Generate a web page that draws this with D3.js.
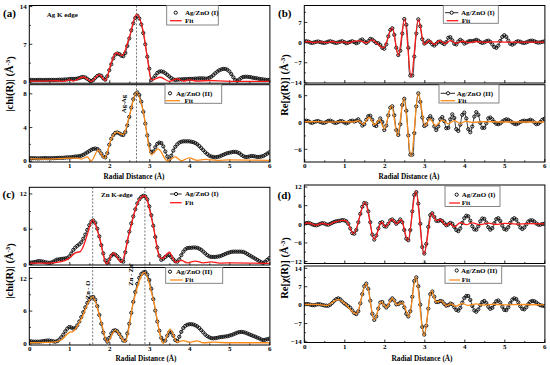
<!DOCTYPE html>
<html>
<head>
<meta charset="utf-8">
<script src="https://cdn.jsdelivr.net/npm/d3@7"></script>
<style>
  body { margin: 0; background: #fff; }
  svg { display: block; }
  text { font-family: "Liberation Serif", "Times New Roman", serif; font-weight: bold; fill: #000; }
</style>
</head>
<body>
<div id="main"></div>
<script>
const W = 550, H = 365;

// radial distance grid (Å), one point every 0.05
const radius = d3.range(121).map(i => +(i * 0.05).toFixed(2));
const xTicks = [0, 1, 2, 3, 4, 5, 6];
const xMinor = [0.5, 1.5, 2.5, 3.5, 4.5, 5.5];

const agMagI = [
  0.30,0.32,0.30,0.28,0.30,0.32,0.30,0.28,0.30,0.30,0.32,0.30,0.30,0.30,0.32,0.35,0.35,0.35,0.40,0.40,
  0.45,0.50,0.50,0.50,0.55,0.65,0.80,0.85,0.75,0.50,0.25,0.10,0.30,0.70,1.05,1.20,1.05,0.60,0.35,1.00,
  2.10,3.20,4.30,5.00,5.20,5.10,4.80,4.70,5.30,6.60,8.00,9.50,10.8,11.8,12.2,11.7,10.6,9.00,6.90,4.60,
  2.40,0.30,0.60,1.10,1.60,1.85,1.90,1.80,1.55,1.25,0.95,0.65,0.40,0.30,0.35,0.40,0.40,0.45,0.45,0.45,
  0.50,0.50,0.50,0.55,0.55,0.60,0.60,0.60,0.55,0.55,0.70,0.90,1.20,1.55,1.85,2.10,2.25,2.35,2.35,2.20,
  1.90,1.40,0.80,0.30,0.15,0.40,0.70,0.85,0.90,0.90,0.85,0.80,0.70,0.65,0.60,0.50,0.45,0.40,0.35,0.30,0.30
];
const agMagII = [
  0.30,0.30,0.30,0.30,0.28,0.28,0.30,0.30,0.32,0.30,0.30,0.30,0.30,0.32,0.33,0.35,0.35,0.35,0.38,0.40,
  0.40,0.42,0.45,0.50,0.50,0.55,0.60,0.70,0.85,1.00,1.15,1.30,1.40,1.45,1.40,1.20,0.85,0.50,0.40,0.90,
  1.90,2.60,3.05,3.30,3.35,3.25,3.10,3.05,3.40,4.20,5.20,6.30,7.30,7.90,8.10,7.80,7.00,5.80,4.40,3.00,
  1.90,1.05,1.10,1.60,2.00,2.15,2.10,1.70,1.10,0.50,0.15,0.60,1.20,1.65,1.95,2.15,2.25,2.30,2.30,2.30,
  2.30,2.25,2.20,2.10,1.95,1.75,1.50,1.25,1.00,0.80,0.60,0.50,0.45,0.40,0.45,0.50,0.60,0.70,0.80,0.90,
  0.95,1.00,1.05,1.05,1.00,0.90,0.70,0.55,0.45,0.45,0.50,0.55,0.55,0.50,0.45,0.45,0.50,0.55,0.70,0.85,1.00
];
const agReI = [
  0.2,0.3,0.15,-0.15,-0.3,-0.1,0.1,0.2,0.0,-0.2,-0.3,-0.1,0.15,0.3,0.1,-0.15,-0.3,-0.1,0.15,0.3,
  0.0,-0.4,-0.2,0.1,0.3,0.0,-0.4,-0.1,0.6,0.9,0.2,-0.3,0.3,1.1,0.9,0.3,-0.3,-0.4,-1.0,-2.0,
  -2.3,-0.8,2.0,4.2,4.8,2.5,-2.0,-4.5,-3.0,3.0,8.0,6.0,-2.0,-11.6,-11.6,-5.0,3.0,7.9,5.5,1.0,
  -0.5,-0.1,0.5,0.0,-0.8,-1.2,-0.6,0.1,0.2,-0.3,-0.7,0.0,1.5,1.7,0.6,-0.6,-0.8,0.2,0.8,0.3,
  -0.5,-0.2,0.2,0.4,0.3,0.5,0.8,0.5,0.0,-0.3,-0.1,0.3,0.5,0.1,-0.8,-1.7,-2.0,-1.2,0.4,1.8,
  2.4,1.8,0.5,-0.6,-0.9,-0.5,0.1,0.3,0.1,-0.2,-0.3,-0.1,0.2,0.45,0.5,0.3,0.0,-0.2,-0.1,0.1,0.2
];
const agReII = [
  0.2,0.3,0.2,-0.1,-0.2,0.0,0.15,0.2,0.0,-0.15,-0.2,0.0,0.25,0.3,0.1,-0.15,-0.2,0.0,0.2,0.15,
  -0.1,-0.3,-0.1,0.2,0.3,0.1,0.3,0.6,0.0,-0.8,-0.5,0.5,1.3,1.4,0.5,-0.7,-0.9,0.0,0.8,0.0,
  -1.8,-0.8,1.5,3.2,3.5,1.5,-1.8,-2.9,-0.5,3.8,5.2,2.5,-3.0,-7.3,-7.3,-2.5,3.5,6.4,4.5,1.0,
  -0.9,-0.6,0.7,1.3,0.6,-1.0,-1.8,-1.0,0.6,1.1,0.2,-1.4,-1.3,0.6,1.7,0.9,-1.6,-2.0,-0.6,1.6,
  2.1,0.8,-1.6,-2.3,-1.0,1.2,2.2,1.6,-0.2,-1.3,-1.3,-0.3,0.8,1.0,0.6,0.0,-0.4,-0.5,-0.3,0.1,
  0.4,0.6,0.5,0.2,-0.1,-0.4,-0.5,-0.3,0.0,0.2,0.3,0.2,0.3,0.5,0.3,-0.1,-0.5,-0.4,0.0,0.5,0.7
];
const znMagI = [
  0.20,0.25,0.30,0.35,0.45,0.50,0.45,0.40,0.30,0.25,0.20,0.25,0.40,0.60,0.75,0.80,0.85,0.90,0.95,1.00,
  1.30,1.80,2.40,2.80,3.10,3.35,3.70,4.30,5.00,5.80,6.60,7.20,7.40,7.00,6.00,4.70,3.20,1.80,0.60,0.20,
  0.80,1.40,1.70,1.60,1.30,0.90,0.50,0.40,2.00,3.80,5.50,6.90,8.10,9.30,10.3,11.0,11.4,11.6,11.5,11.0,
  9.80,8.30,6.50,4.60,2.80,1.40,0.70,0.90,1.20,1.45,1.50,1.20,0.80,0.45,0.40,0.80,1.50,2.10,2.50,2.70,
  2.75,2.75,2.80,2.80,2.75,2.60,2.40,2.10,1.80,1.50,1.30,1.20,1.20,1.20,1.25,1.30,1.40,1.55,1.70,1.85,
  1.95,2.05,2.10,2.10,2.10,2.10,2.10,2.05,1.90,1.70,1.50,1.30,1.10,0.90,0.70,0.50,0.30,0.20,0.40,0.70,1.00
];
const znMagII = [
  0.40,0.35,0.30,0.30,0.30,0.30,0.35,0.40,0.45,0.50,0.50,0.45,0.35,0.30,0.40,0.70,1.10,1.60,2.20,2.70,
  3.00,2.90,2.70,2.80,3.30,4.00,4.80,5.70,6.60,7.40,8.00,8.40,8.50,8.00,6.80,5.20,3.60,2.00,0.80,0.30,
  1.00,1.80,2.30,2.40,2.20,1.70,1.10,0.50,0.50,1.80,3.60,5.60,7.60,9.40,10.9,12.0,12.7,13.0,13.1,12.6,
  11.6,10.0,8.10,6.00,4.00,2.30,1.00,0.40,0.50,1.40,2.00,2.00,1.40,0.60,0.40,1.20,2.10,2.80,3.20,3.40,
  3.50,3.50,3.45,3.30,3.10,2.80,2.40,2.00,1.60,1.30,1.10,0.95,0.90,0.95,1.00,1.10,1.15,1.20,1.25,1.30,
  1.40,1.50,1.65,1.80,1.95,2.05,2.10,2.05,1.95,1.80,1.65,1.50,1.35,1.20,1.05,0.90,0.70,0.60,0.65,0.75,0.85
];
const znReI = [
  0.0,0.2,0.3,0.1,-0.2,-0.4,-0.5,-0.3,0.0,0.2,0.1,-0.2,-0.3,0.0,0.3,0.6,0.8,0.9,1.0,1.2,
  1.1,0.8,0.0,-1.5,-3.0,-3.2,-2.0,0.5,3.2,5.5,6.7,6.5,4.0,0.5,-3.5,-5.1,-3.8,-1.5,0.3,0.5,
  -0.8,-0.9,0.0,1.1,1.4,0.8,0.0,0.6,1.4,0.5,-2.0,-4.8,-5.3,-2.0,4.0,9.3,10.2,6.5,0.0,-7.5,
  -9.6,-6.5,-1.0,2.8,3.4,2.2,1.0,0.9,1.2,0.9,0.2,-0.5,-0.2,0.3,0.0,-1.0,-2.0,-2.4,-1.5,0.3,
  1.8,2.6,2.4,1.0,-0.8,-1.8,-1.9,-0.8,0.8,1.7,1.6,0.4,-1.1,-1.9,-1.4,0.2,1.5,1.8,0.9,-0.6,
  -1.7,-1.9,-1.1,0.3,1.4,1.8,1.3,0.0,-1.2,-1.7,-1.2,-0.2,0.7,1.1,1.1,0.7,0.1,-0.3,-0.3,-0.1,0.0
];
const znReII = [
  0.1,0.2,0.2,0.0,-0.2,-0.2,0.0,0.2,0.1,-0.1,-0.3,-0.4,-0.4,0.0,0.7,1.5,2.1,2.4,2.0,1.2,
  0.5,0.0,-0.6,-1.2,-2.2,-3.2,-3.6,-2.5,0.5,4.0,7.0,8.0,6.0,1.5,-3.5,-5.8,-4.5,-1.5,0.8,1.0,
  -0.3,-1.1,-0.3,1.6,2.4,1.6,0.1,0.2,0.8,0.8,-1.0,-3.5,-4.5,-2.5,3.0,9.0,10.4,7.0,0.0,-8.5,
  -11.4,-8.0,-1.5,4.0,5.0,3.0,1.0,1.0,1.4,1.2,0.3,-0.4,-0.2,0.4,0.1,-1.0,-2.0,-2.3,-1.2,0.8,
  2.5,3.3,3.3,1.8,-0.5,-2.2,-2.7,-1.8,-0.2,1.0,1.4,0.6,-0.8,-1.6,-1.2,0.2,1.3,1.6,0.8,-0.8,
  -2.0,-2.1,-1.0,0.6,1.9,2.4,2.1,0.9,-0.6,-1.6,-1.8,-1.0,0.2,1.1,1.4,1.3,0.8,0.2,-0.2,-0.4,-0.5
];

// ---- fits, as [R, value] turning points ----
const fitAgMagI = [[0,0.1],[0.4,0.1],[0.7,0.15],[0.85,0.05],[1.0,0.3],[1.1,0.1],[1.35,0.85],[1.55,0.05],[1.75,1.3],[1.9,0.2],[2.05,3.5],[2.17,5.3],[2.32,4.8],[2.5,8.2],[2.68,12.4],[2.85,9.2],[2.95,4.5],[3.05,0.3],[3.15,0.5],[3.27,0.8],[3.5,0.05],[3.7,0.5],[3.85,0.1],[4.0,0.3],[4.2,0.1],[4.5,0.2],[5.0,0.05],[6.0,0.05]];
const fitAgMagII = [[0,0.25],[0.5,0.2],[1.0,0.3],[1.2,0.3],[1.3,0.2],[1.45,0.45],[1.55,0.0],[1.72,1.25],[1.88,0.3],[2.05,2.6],[2.18,3.4],[2.35,3.1],[2.5,5.3],[2.68,8.1],[2.85,5.8],[3.05,0.7],[3.22,1.4],[3.45,0.0],[3.65,0.45],[3.8,0.0],[4.0,0.35],[4.2,0.05],[4.4,0.15],[4.7,0.05],[5.0,0.1],[6.0,0.05]];
const fitAgReI = [[0,0.1],[0.1,0.2],[0.25,-0.2],[0.4,0.1],[0.55,-0.2],[0.7,0.2],[0.85,-0.2],[1.0,0.1],[1.1,-0.3],[1.25,0.3],[1.4,0.4],[1.55,-0.3],[1.68,0.8],[1.98,-2.0],[2.2,4.9],[2.35,-4.6],[2.51,8.0],[2.67,-12.0],[2.85,7.8],[3.0,-0.8],[3.12,0.5],[3.25,-0.8],[3.38,0.5],[3.52,-0.5],[3.65,0.5],[3.8,-0.4],[3.95,0.3],[4.1,-0.2],[4.3,0.2],[4.5,-0.1],[4.7,0.1],[5.0,0.0],[6.0,0.0]];
const fitAgReII = [[0,0.05],[0.3,0.1],[0.6,-0.05],[1.0,0.1],[1.2,0.0],[1.35,0.3],[1.47,-0.5],[1.62,1.0],[1.76,-0.6],[1.88,0.5],[2.0,-1.5],[2.18,3.6],[2.33,-3.0],[2.49,5.3],[2.67,-7.7],[2.85,6.4],[3.02,-0.8],[3.14,0.7],[3.28,-0.8],[3.45,0.4],[3.6,-0.4],[3.75,0.3],[3.9,-0.3],[4.05,0.2],[4.2,-0.1],[4.5,0.1],[5.0,0.0],[6.0,0.0]];
const fitZnMagI = [[0,0.15],[0.5,0.15],[0.8,0.4],[1.0,1.0],[1.15,1.9],[1.27,2.1],[1.35,3.0],[1.45,5.0],[1.58,7.5],[1.75,4.6],[1.93,0.0],[2.1,1.9],[2.3,0.3],[2.5,5.3],[2.7,10.3],[2.88,11.6],[3.1,6.4],[3.25,1.3],[3.33,0.9],[3.5,2.0],[3.65,0.3],[3.8,0.6],[3.95,0.2],[4.15,0.5],[4.35,0.2],[4.55,0.35],[4.8,0.15],[5.1,0.2],[6.0,0.1]];
const fitZnMagII = [[0,0.1],[0.6,0.2],[0.8,0.6],[1.0,2.0],[1.1,2.2],[1.3,4.5],[1.58,8.5],[1.8,3.8],[1.95,0.2],[2.15,2.4],[2.4,0.3],[2.6,7.5],[2.88,13.0],[3.1,8.0],[3.35,0.0],[3.52,2.6],[3.7,0.2],[3.85,0.5],[4.0,0.2],[4.2,0.45],[4.35,0.1],[4.6,0.2],[5.0,0.1],[6.0,0.1]];
const fitZnReI = [[0,0.0],[0.1,0.25],[0.3,-0.4],[0.45,0.15],[0.6,-0.25],[0.75,0.5],[0.95,1.1],[1.05,0.9],[1.23,-3.2],[1.52,6.8],[1.75,-5.0],[1.93,0.5],[2.03,-0.9],[2.19,1.4],[2.31,0.0],[2.42,1.3],[2.59,-5.4],[2.79,10.4],[2.99,-9.8],[3.19,3.5],[3.3,1.0],[3.4,1.3],[3.55,-0.5],[3.63,0.2],[3.75,-1.0],[3.9,0.4],[4.05,-0.3],[4.2,0.3],[4.4,-0.3],[4.6,0.2],[4.8,-0.2],[5.0,0.15],[5.3,-0.1],[5.6,0.05],[6.0,0.0]];
const fitZnReII = [[0,0.05],[0.3,0.1],[0.55,-0.3],[0.85,2.0],[1.0,0.6],[1.3,-3.5],[1.55,8.0],[1.75,-5.8],[1.92,1.0],[2.05,-1.0],[2.2,2.4],[2.32,0.0],[2.45,0.8],[2.62,-4.5],[2.79,10.6],[2.99,-11.8],[3.18,5.2],[3.3,1.0],[3.42,1.4],[3.56,-0.4],[3.66,0.3],[3.78,-0.6],[3.95,0.4],[4.1,-0.3],[4.3,0.3],[4.5,-0.2],[4.75,0.15],[5.0,-0.1],[5.4,0.05],[6.0,-0.1]];

const RED = "#ff1a1a", ORANGE = "#fb8c1c";

const panels = [
  { id: "a1", left: 29.3, top: 5.5, bottom: 83.2, yDomain: [-0.3, 14.1], yTicks: [0, 7, 14], yMinor: [3.5, 10.5],
    data: agMagI, fit: fitAgMagI, color: RED, xLabels: false,
    legend: { box: [166.7, 5.5, 218.3, 25], lineDot: null, dotX: 175.7, t1X: 185, y1: 12.7, fitLine: [170, 181.7], t2X: 185, y2: 20.7, label: "Ag/ZnO (I)" } },
  { id: "a2", left: 29.3, top: 84.7, bottom: 162, yDomain: [-0.15, 9.02], yTicks: [0, 4, 8], yMinor: [2, 6],
    data: agMagII, fit: fitAgMagII, color: ORANGE, xLabels: true,
    legend: { box: [165, 84.7, 221.7, 103.3], lineDot: null, dotX: 170, t1X: 176, y1: 93.3, fitLine: [165.7, 180], t2X: 184.5, y2: 100.7, label: "Ag/ZnO (II)" } },
  { id: "b1", left: 304.3, top: 5.5, bottom: 83, yDomain: [-14.2, 12.7], yTicks: [-14, -7, 0, 7], yMinor: [-10.5, -3.5, 3.5, 10.5],
    data: agReI, fit: fitAgReI, color: RED, xLabels: false,
    legend: { box: [443.3, 5.5, 498.3, 23.3], lineDot: [445, 458.3], dotX: 451.7, t1X: 461, y1: 12.7, fitLine: [446.7, 458.3], t2X: 461.7, y2: 20.7, label: "Ag/ZnO (I)" } },
  { id: "b2", left: 304.3, top: 84.7, bottom: 162, yDomain: [-8.95, 8.34], yTicks: [-6, 0, 6], yMinor: [-3, 3],
    data: agReII, fit: fitAgReII, color: ORANGE, xLabels: true,
    legend: { box: [439, 84.7, 499, 103], lineDot: [440.7, 455], dotX: 448, t1X: 456.7, y1: 93.3, fitLine: [440.7, 455], t2X: 458, y2: 100.7, label: "Ag/ZnO (II)" } },
  { id: "c1", left: 29.3, top: 187.3, bottom: 265, yDomain: [-0.17, 13.04], yTicks: [0, 6, 12], yMinor: [3, 9],
    data: znMagI, fit: fitZnMagI, color: RED, xLabels: false,
    legend: { box: null, lineDot: [170, 181.7], dotX: 176, t1X: 185, y1: 194, fitLine: [170, 181.7], t2X: 185, y2: 202.7, label: "Ag/ZnO (I)" } },
  { id: "c2", left: 29.3, top: 267.5, bottom: 345, yDomain: [-0.31, 13.9], yTicks: [0, 6, 12], yMinor: [3, 9],
    data: znMagII, fit: fitZnMagII, color: ORANGE, xLabels: true,
    legend: { box: [165.7, 267.5, 222.7, 283.3], lineDot: null, dotX: 170, t1X: 176, y1: 271.7, fitLine: [170, 182.7], t2X: 185, y2: 280, label: "Ag/ZnO (II)" } },
  { id: "d1", left: 304.3, top: 185, bottom: 263.5, yDomain: [-12.8, 12.5], yTicks: [-12, -6, 0, 6, 12], yMinor: [-9, -3, 3, 9],
    data: znReI, fit: fitZnReI, color: RED, xLabels: false,
    legend: { box: [445, 186, 500, 206.5], lineDot: null, dotX: 456.7, t1X: 461.7, y1: 194.7, fitLine: [449.3, 460], t2X: 461.7, y2: 203, label: "Ag/ZnO (I)" } },
  { id: "d2", left: 304.3, top: 266, bottom: 342.5, yDomain: [-14.4, 14.7], yTicks: [-14, -7, 0, 7, 14], yMinor: [-10.5, -3.5, 3.5, 10.5],
    data: znReII, fit: fitZnReII, color: ORANGE, xLabels: true,
    legend: { box: [445, 266, 501.7, 283.3], lineDot: null, dotX: 456.7, t1X: 461, y1: 270.5, fitLine: [449.3, 460], t2X: 461.7, y2: 280, label: "Ag/ZnO (II)" } }
];

const svg = d3.select("#main").append("svg")
  .attr("width", W)
  .attr("height", H);

const scales = {};

function drawFrame(p) {
  const x = d3.scaleLinear().domain([0, 6]).range([p.left, p.left + 240]);
  const y = d3.scaleLinear().domain(p.yDomain).range([p.bottom, p.top]);
  scales[p.id] = { x, y };

  svg.append("clipPath").attr("id", "clip-" + p.id)
    .append("rect")
    .attr("x", p.left).attr("y", p.top)
    .attr("width", 240.6).attr("height", p.bottom - p.top);

  // ticks point inward, minor ones shorter
  svg.append("g").attr("transform", `translate(0,${p.bottom})`)
    .call(d3.axisBottom(x).tickValues(xTicks).tickSize(-3).tickPadding(1.2)
      .tickFormat(p.xLabels ? d3.format("d") : ""));
  svg.append("g").attr("transform", `translate(0,${p.bottom})`)
    .call(d3.axisBottom(x).tickValues(xMinor).tickSize(-1.6).tickFormat(""));
  svg.append("g").attr("transform", `translate(${p.left},0)`)
    .call(d3.axisLeft(y).tickValues(p.yTicks).tickSize(-3).tickPadding(2.5).tickFormat(d3.format("d")));
  svg.append("g").attr("transform", `translate(${p.left},0)`)
    .call(d3.axisLeft(y).tickValues(p.yMinor).tickSize(-1.6).tickFormat(""));

  svg.selectAll(".domain").remove();
  svg.selectAll(".tick line").attr("stroke", "#000").attr("stroke-width", 0.8);
  svg.selectAll(".tick text").style("font-size", "7px").style("font-weight", "bold")
    .style("font-family", '"Liberation Serif", serif');
}

function drawCurves(p) {
  const { x, y } = scales[p.id];
  const g = svg.append("g").attr("clip-path", `url(#clip-${p.id})`);
  const pts = radius.map((r, i) => [r, p.data[i]]);

  g.append("path")
    .datum(pts)
    .attr("fill", "none")
    .attr("stroke", "#111")
    .attr("stroke-width", 0.8)
    .attr("d", d3.line().x(d => x(d[0])).y(d => y(d[1])).curve(d3.curveCatmullRom));

  g.selectAll("circle.obs")
    .data(pts)
    .enter()
    .append("circle")
    .attr("class", "obs")
    .attr("cx", d => x(d[0]))
    .attr("cy", d => y(d[1]))
    .attr("r", 1.6)
    .attr("fill", "none")
    .attr("stroke", "#111")
    .attr("stroke-width", 1);

  g.append("path")
    .datum(p.fit)
    .attr("fill", "none")
    .attr("stroke", p.color)
    .attr("stroke-width", 1.3)
    .attr("d", d3.line().x(d => x(d[0])).y(d => y(d[1])).curve(d3.curveMonotoneX));

  svg.append("rect")
    .attr("x", p.left).attr("y", p.top)
    .attr("width", 240.6).attr("height", p.bottom - p.top)
    .attr("fill", "none").attr("stroke", "#000").attr("stroke-width", 1);
}

function drawLegend(p) {
  const lg = p.legend;
  const g = svg.append("g");
  if (lg.box) {
    g.append("rect")
      .attr("x", lg.box[0]).attr("y", lg.box[1])
      .attr("width", lg.box[2] - lg.box[0]).attr("height", lg.box[3] - lg.box[1])
      .attr("fill", "#fff").attr("stroke", "#777").attr("stroke-width", 0.9);
  }
  if (lg.lineDot) {
    g.append("line")
      .attr("x1", lg.lineDot[0]).attr("x2", lg.lineDot[1])
      .attr("y1", lg.y1).attr("y2", lg.y1)
      .attr("stroke", "#111").attr("stroke-width", 0.9);
  }
  g.append("circle")
    .attr("cx", lg.dotX).attr("cy", lg.y1).attr("r", 1.6)
    .attr("fill", "#fff").attr("stroke", "#111").attr("stroke-width", 1);
  g.append("text")
    .attr("x", lg.t1X).attr("y", lg.y1).attr("dy", "0.35em")
    .style("font-size", "7px")
    .text(lg.label);
  g.append("line")
    .attr("x1", lg.fitLine[0]).attr("x2", lg.fitLine[1])
    .attr("y1", lg.y2).attr("y2", lg.y2)
    .attr("stroke", p.color).attr("stroke-width", 1.3);
  g.append("text")
    .attr("x", lg.t2X).attr("y", lg.y2).attr("dy", "0.35em")
    .style("font-size", "7px")
    .text("Fit");
}

panels.forEach(drawFrame);

// dashed guide lines (bond distances)
const guides = [
  { panel: "a1", r: 2.68, y0: 5.5, y1: 162 },
  { panel: "c1", r: 1.585, y0: 187.3, y1: 345 },
  { panel: "c1", r: 2.89, y0: 187.3, y1: 345 }
];
guides.forEach(gd => {
  const x = scales[gd.panel].x;
  svg.append("line")
    .attr("x1", x(gd.r)).attr("x2", x(gd.r))
    .attr("y1", gd.y0).attr("y2", gd.y1)
    .attr("stroke", "#555").attr("stroke-width", 0.8)
    .attr("stroke-dasharray", "2,1.6");
});

panels.forEach(drawCurves);
panels.forEach(drawLegend);

// axis titles
function yTitle(cx, cy, prefix) {
  const t = svg.append("text")
    .attr("transform", `translate(${cx},${cy}) rotate(-90)`)
    .attr("text-anchor", "middle")
    .attr("dy", "0.35em")
    .style("font-size", "10.5px");
  t.append("tspan").text(prefix + " (Å");
  t.append("tspan").attr("dy", "-0.4em").style("font-size", "7px").text("-3");
  t.append("tspan").attr("dy", "0.4em").text(")");
}
yTitle(9, 84, "|chi(R)|");
yTitle(284, 85, "Re[χ(R)]");
yTitle(9, 271, "|chi(R)|");
yTitle(284, 268, "Re[χ(R)]");

[[134, 178.5], [409, 178.5], [146, 361], [422, 360.5]].forEach(([cx, cy]) => {
  svg.append("text")
    .attr("x", cx).attr("y", cy)
    .attr("text-anchor", "middle")
    .attr("textLength", 61)
    .attr("lengthAdjust", "spacingAndGlyphs")
    .style("font-size", "8.2px")
    .text("Radial Distance (Å)");
});

// panel letters
[["(a)", 3, 16.5], ["(b)", 278, 17], ["(c)", 2.5, 197.5], ["(d)", 277.5, 198.5]].forEach(([s, px, py]) => {
  svg.append("text").attr("x", px).attr("y", py).style("font-size", "11px").text(s);
});

// annotations
svg.append("text").attr("x", 46.7).attr("y", 17).style("font-size", "7px").text("Ag K edge");
svg.append("text").attr("x", 101).attr("y", 197).style("font-size", "7px").text("Zn K-edge");
[["Ag-Ag", 123.5, 104], ["Zn - O", 88, 290], ["Zn - Zn", 131, 275]].forEach(([s, cx, cy]) => {
  svg.append("text")
    .attr("transform", `translate(${cx},${cy}) rotate(-90)`)
    .attr("text-anchor", "middle")
    .attr("dy", "0.35em")
    .style("font-size", "6.5px")
    .text(s);
});
svg.append("text").attr("x", 424).attr("y", 263).attr("text-anchor", "middle")
  .style("font-size", "5px").style("font-weight", "normal").text("A");
</script>
</body>
</html>
